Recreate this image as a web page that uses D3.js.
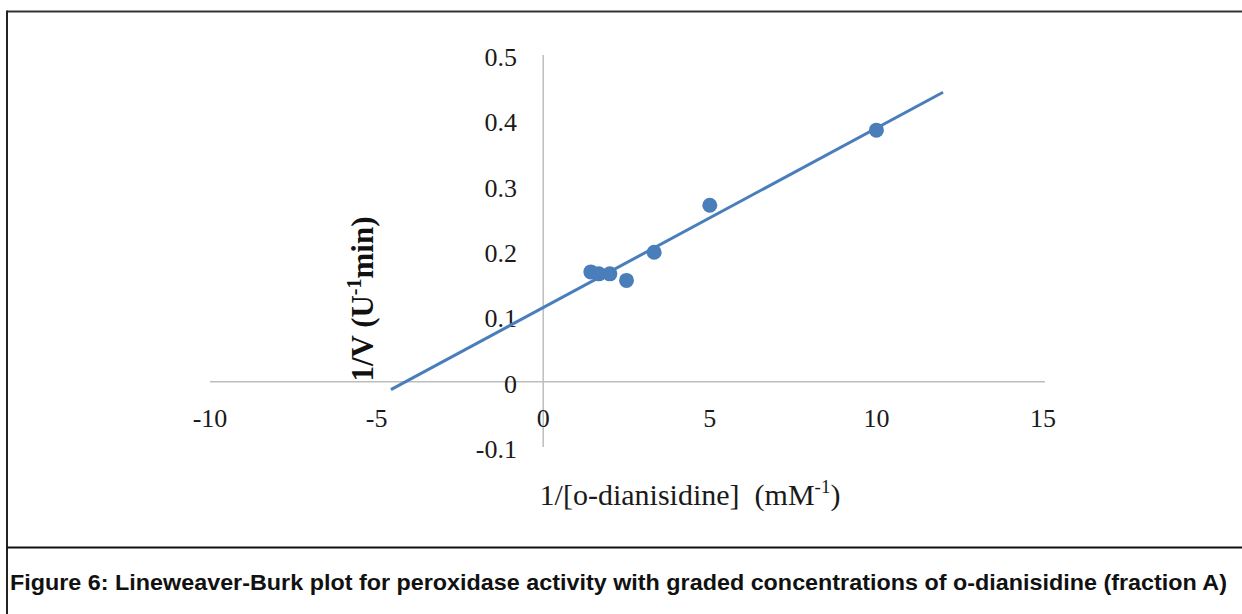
<!DOCTYPE html>
<html>
<head>
<meta charset="utf-8">
<script src="https://cdn.jsdelivr.net/npm/d3@7"></script>
<style>
  html, body { margin: 0; padding: 0; background: #fff; }
  svg { display: block; }
</style>
</head>
<body>
<svg id="chart" width="1242" height="614"></svg>
<script>
// Lineweaver-Burk data: reciprocal substrate concentration vs reciprocal velocity
const invSubstrate = [1.43, 1.67, 2.0, 2.5, 3.33, 5.0, 10.0];   // 1/[S], mM^-1
const invVelocity  = [0.168, 0.165, 0.165, 0.155, 0.198, 0.270, 0.385]; // 1/V, U^-1 min
const xTicks = [-10, -5, 0, 5, 10, 15];
const yTicks = [-0.1, 0, 0.1, 0.2, 0.3, 0.4, 0.5];
// trendline extent (forecast backward / forward along x)
const trendExtent = [-4.57, 12.0];

const caption = "Figure 6: Lineweaver-Burk plot for peroxidase activity with graded concentrations of o-dianisidine (fraction A)";

const svg = d3.select("#chart");
const blue = "#4a7ebb";
const axisGrey = "#bdbdbd";
const serif = "'Liberation Serif', 'Times New Roman', serif";

const x = d3.scaleLinear().domain([-10, 15]).range([210, 1043]);
const y = d3.scaleLinear().domain([-0.1, 0.5]).range([447, 55]);

// frame
svg.append("line").attr("x1", 7).attr("x2", 1242).attr("y1", 11.5).attr("y2", 11.5)
  .attr("stroke", "#333").attr("stroke-width", 2);
svg.append("line").attr("x1", 7).attr("x2", 7).attr("y1", 10.5).attr("y2", 614)
  .attr("stroke", "#222").attr("stroke-width", 2);
svg.append("line").attr("x1", 7).attr("x2", 1242).attr("y1", 547.5).attr("y2", 547.5)
  .attr("stroke", "#111").attr("stroke-width", 2);

// axes crossing at the origin
svg.append("line").attr("x1", x(-10)).attr("x2", x(15) + 2)
  .attr("y1", y(0)).attr("y2", y(0))
  .attr("stroke", axisGrey).attr("stroke-width", 1.5);
svg.append("line").attr("x1", x(0)).attr("x2", x(0))
  .attr("y1", y(0.5)).attr("y2", y(-0.1))
  .attr("stroke", axisGrey).attr("stroke-width", 1.5);

// plain hyphen-minus labels, "0" without decimals
const fmtY = d => d === 0 ? "0" : d.toFixed(1);

// x tick labels
svg.append("g").selectAll("text").data(xTicks).join("text")
  .attr("x", d => x(d)).attr("y", y(0) + 45)
  .attr("text-anchor", "middle")
  .attr("font-family", serif).attr("font-size", 26).attr("fill", "#1a1a1a")
  .text(d => String(d));

// y tick labels
svg.append("g").selectAll("text").data(yTicks).join("text")
  .attr("x", 517).attr("y", d => y(d) + 11)
  .attr("text-anchor", "end")
  .attr("font-family", serif).attr("font-size", 26).attr("fill", "#1a1a1a")
  .text(fmtY);

// least-squares trendline through the points
const mx = d3.mean(invSubstrate), my = d3.mean(invVelocity);
const sxy = d3.sum(invSubstrate, (v, i) => (v - mx) * (invVelocity[i] - my));
const sxx = d3.sum(invSubstrate, v => (v - mx) ** 2);
const slope = sxy / sxx, intercept = my - slope * mx;
const line = d3.line().x(d => x(d)).y(d => y(slope * d + intercept));
svg.append("path").datum(trendExtent)
  .attr("d", line).attr("fill", "none")
  .attr("stroke", blue).attr("stroke-width", 3);

// data points
svg.append("g").selectAll("circle").data(invSubstrate).join("circle")
  .attr("cx", d => x(d)).attr("cy", (d, i) => y(invVelocity[i]))
  .attr("r", 7.5).attr("fill", blue);

// y axis title
const yt = svg.append("text")
  .attr("transform", "translate(373,299) rotate(-90)")
  .attr("text-anchor", "middle")
  .attr("font-family", serif).attr("font-size", 31).attr("font-weight", "bold")
  .attr("fill", "#111");
yt.append("tspan").text("1/V (U");
yt.append("tspan").attr("font-size", 20).attr("dy", -12).text("-1");
yt.append("tspan").attr("dy", 12).text("min)");

// x axis title
const xt = svg.append("text")
  .attr("x", 690).attr("y", 505)
  .attr("text-anchor", "middle")
  .attr("font-family", serif).attr("font-size", 30).attr("fill", "#1a1a1a");
xt.append("tspan").text("1/[o-dianisidine]\u00a0 (mM");
xt.append("tspan").attr("font-size", 19).attr("dy", -12).text("-1");
xt.append("tspan").attr("dy", 12).text(")");

// caption
svg.append("text")
  .attr("x", 10).attr("y", 590)
  .attr("font-family", "'Liberation Sans', Arial, sans-serif")
  .attr("font-size", 22).attr("font-weight", "bold").attr("fill", "#111")
  .attr("textLength", 1217).attr("lengthAdjust", "spacingAndGlyphs")
  .text(caption);
</script>
</body>
</html>
